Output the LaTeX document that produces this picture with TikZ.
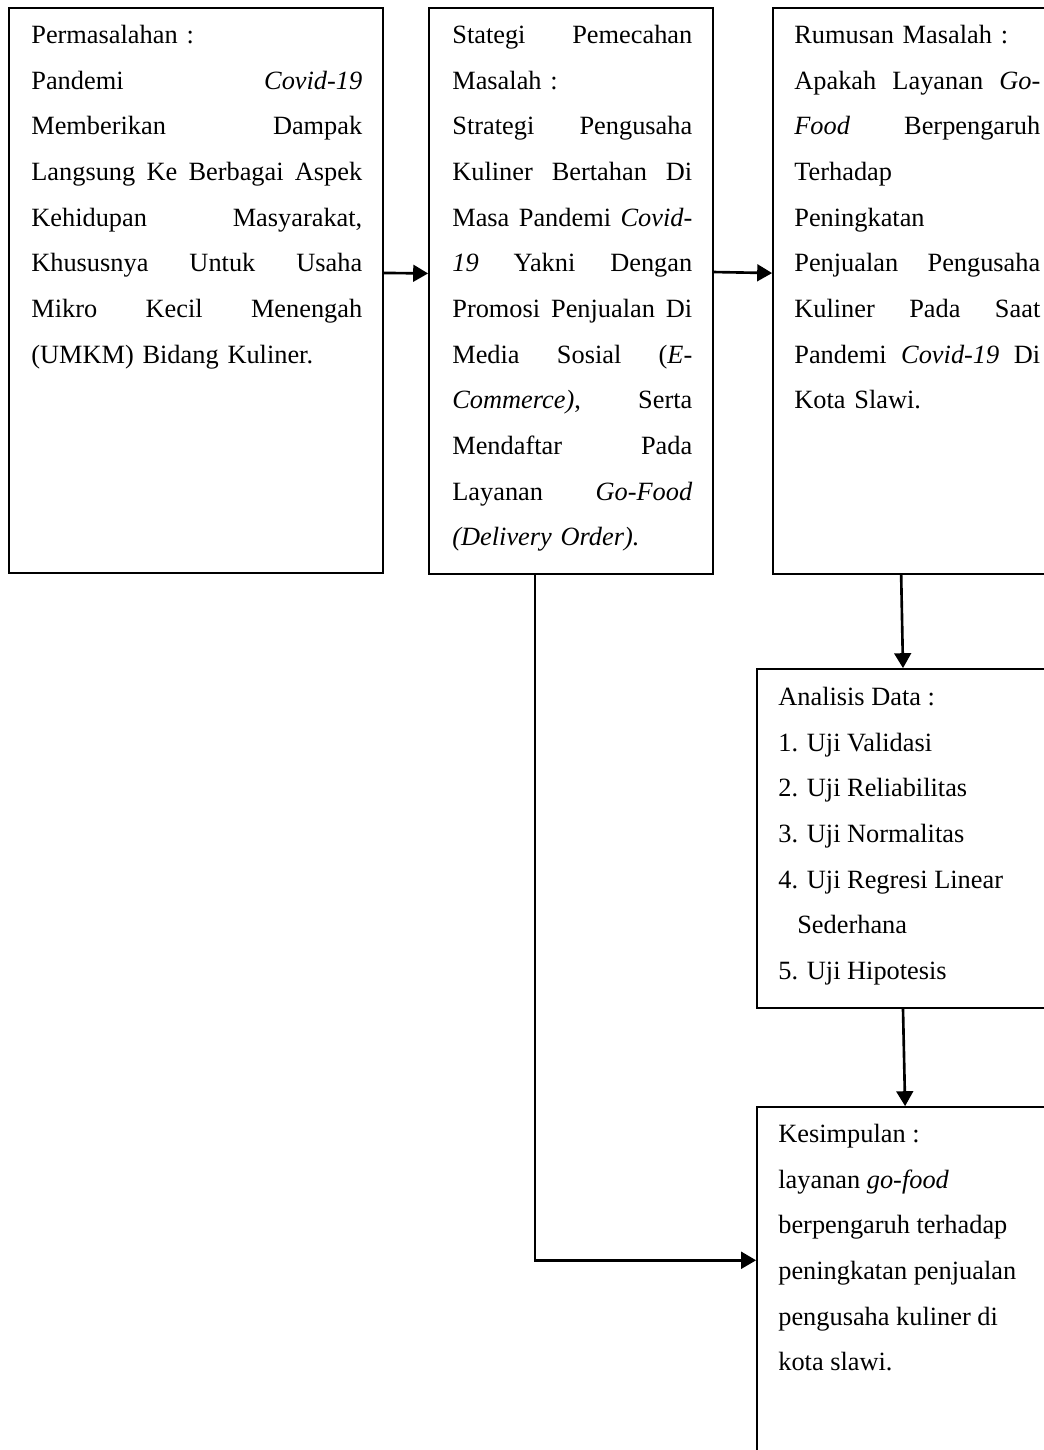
\documentclass[tikz,border=0pt]{standalone}
\usepackage{fontspec}
\setmainfont{Liberation Serif}
\usetikzlibrary{arrows.meta,fit}

\begin{document}
\begin{tikzpicture}[x=0.02cm,y=-0.02cm,>={Triangle[length=8.5pt,width=9.5pt]},
  box/.style={draw,line width=1pt,inner sep=0pt},
  txt/.style={anchor=north west,inner sep=0pt,align=left,font=\fontsize{15pt}{26pt}\selectfont},
  link/.style={->,line width=1.5pt}]
\useasboundingbox (0,0) rectangle (1044,1450);
\clip (0,0) rectangle (1044,1450);
\node[box,fit={(9,8) (383,573)}] (perm) {};
\node[box,fit={(429,8) (713,574)}] (strat) {};
\node[box,fit={(773,8) (1075,574)}] (rumus) {};
\node[box,fit={(757,669) (1075,1008)}] (anal) {};
\node[box,fit={(757,1107) (1075,1507)}] (kesim) {};
\node[txt,text width=6.62cm] (permtxt) at (31,11) {\strut Permasalahan :\\
  Pandemi\hfill\textit{Covid-19}\\
  Memberikan\hfill Dampak\\
  Langsung\hfill Ke\hfill Berbagai\hfill Aspek\\
  Kehidupan\hfill Masyarakat,\\
  Khususnya\hfill Untuk\hfill Usaha\\
  Mikro\hfill Kecil\hfill Menengah\\
  (UMKM) Bidang Kuliner.};
\node[txt,text width=4.8cm] (strattxt) at (452,11) {\strut Stategi\hfill Pemecahan\\
  Masalah :\\
  Strategi\hfill Pengusaha\\
  Kuliner\hfill Bertahan\hfill Di\\
  Masa\hfill Pandemi\hfill\textit{Covid-}\\
  \textit{19}\hfill Yakni\hfill Dengan\\
  Promosi\hfill Penjualan\hfill Di\\
  Media\hfill Sosial\hfill (\textit{E-}\\
  \textit{Commerce)},\hfill Serta\\
  Mendaftar\hfill Pada\\
  Layanan\hfill\textit{Go-Food}\\
  \textit{(Delivery Order).}};
\node[txt,text width=4.92cm] (rumustxt) at (794,11) {\strut Rumusan Masalah :\\
  Apakah\hfill Layanan\hfill\textit{Go-}\\
  \textit{Food}\hfill Berpengaruh\\
  Terhadap\\
  Peningkatan\\
  Penjualan\hfill Pengusaha\\
  Kuliner\hfill Pada\hfill Saat\\
  Pandemi\hfill\textit{Covid-19}\hfill Di\\
  Kota Slawi.};
\node[txt] (analtxt) at (778,673) {\strut Analisis Data :\\
  1. Uji Validasi\\
  2. Uji Reliabilitas\\
  3. Uji Normalitas\\
  4. Uji Regresi Linear\\
  \hspace*{10.8pt}Sederhana\\
  5. Uji Hipotesis};
\node[txt] (kesimtxt) at (778,1110) {\strut Kesimpulan :\\
  layanan \textit{go-food}\\
  berpengaruh terhadap\\
  peningkatan penjualan\\
  pengusaha kuliner di\\
  kota slawi.};
\draw[link] ([yshift=10pt]perm.east) -- ([yshift=10pt]strat.west);
\draw[link] ([yshift=10.8pt]strat.east) -- ([yshift=10.2pt]rumus.west);
\draw[link] ([xshift=-13pt]rumus.south) -- ([xshift=-7.4pt]anal.north);
\draw[link] ([xshift=-7.4pt]anal.south) -- ([xshift=-6.2pt]kesim.north);
\draw[link] ([xshift=-20.4pt]strat.south) |- ([yshift=26.6pt]kesim.west);
\end{tikzpicture}
\end{document}
